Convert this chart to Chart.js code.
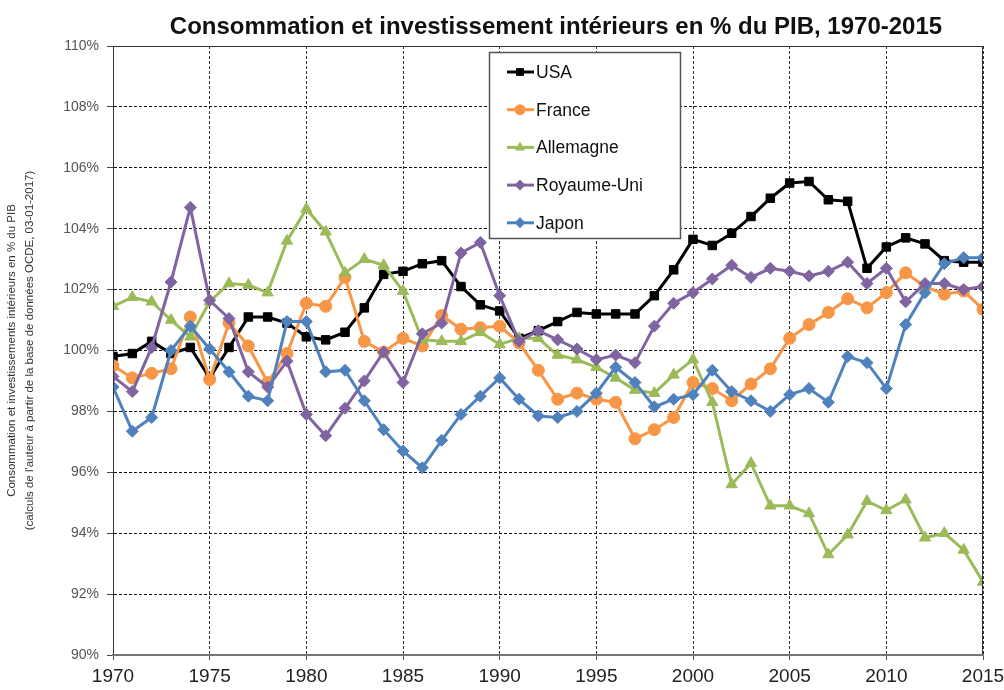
<!DOCTYPE html>
<html lang="fr">
<head>
<meta charset="UTF-8">
<title>Consommation et investissement intérieurs en % du PIB</title>
<style>
    body { margin: 0; background: #fff; }
    #wrap { width: 1004px; height: 690px; }
</style>
</head>
<body>
<div id="wrap"><canvas id="chart" width="1004" height="690"></canvas></div>
<script src="https://cdn.jsdelivr.net/npm/chart.js"></script>
<script>
// années 1970-2015
const years = [];
for (let y = 1970; y <= 2015; y++) years.push(y);

const usa = [99.8, 99.9, 100.3, 99.9, 100.1, 99.1, 100.1, 101.1, 101.1, 100.9,
    100.45, 100.35, 100.6, 101.4, 102.5, 102.6, 102.85, 102.95, 102.1, 101.5,
    101.3, 100.4, 100.65, 100.95, 101.25, 101.2, 101.2, 101.2, 101.8, 102.65,
    103.65, 103.45, 103.85, 104.4, 105.0, 105.5, 105.55, 104.95, 104.9, 102.7,
    103.4, 103.7, 103.5, 102.95, 102.9, 102.9];
const france = [99.5, 99.1, 99.25, 99.4, 101.1, 99.05, 100.9, 100.15, 98.95, 99.9,
    101.55, 101.45, 102.4, 100.3, 99.95, 100.4, 100.15, 101.15, 100.7, 100.75,
    100.8, 100.25, 99.35, 98.4, 98.6, 98.4, 98.3, 97.1, 97.4, 97.8,
    98.95, 98.75, 98.35, 98.9, 99.4, 100.4, 100.85, 101.25, 101.7, 101.4,
    101.9, 102.55, 102.1, 101.85, 101.95, 101.35];
const allemagne = [101.45, 101.75, 101.6, 101.0, 100.45, 101.6, 102.2, 102.15, 101.9, 103.6,
    104.65, 103.9, 102.55, 103.0, 102.8, 101.95, 100.35, 100.3, 100.3, 100.6,
    100.2, 100.4, 100.4, 99.85, 99.7, 99.45, 99.1, 98.7, 98.6, 99.2,
    99.7, 98.3, 95.6, 96.3, 94.9, 94.9, 94.65, 93.3, 93.95, 95.05,
    94.75, 95.1, 93.85, 94.0, 93.45, 92.4];
const royaumeUni = [99.15, 98.65, 100.1, 102.25, 104.7, 101.65, 101.05, 99.3, 98.8, 99.65,
    97.9, 97.2, 98.1, 99.0, 99.95, 98.95, 100.55, 100.9, 103.2, 103.55,
    101.8, 100.3, 100.65, 100.35, 100.05, 99.7, 99.85, 99.6, 100.8, 101.55,
    101.9, 102.35, 102.8, 102.4, 102.7, 102.6, 102.45, 102.6, 102.9, 102.2,
    102.7, 101.6, 102.2, 102.2, 102.0, 102.1];
const japon = [98.8, 97.35, 97.8, 100.0, 100.8, 100.05, 99.3, 98.5, 98.35, 100.95,
    100.95, 99.3, 99.35, 98.35, 97.4, 96.7, 96.15, 97.05, 97.9, 98.5,
    99.1, 98.4, 97.85, 97.8, 98.0, 98.6, 99.45, 98.95, 98.15, 98.4,
    98.55, 99.35, 98.65, 98.35, 98.0, 98.55, 98.75, 98.3, 99.8, 99.6,
    98.75, 100.85, 101.9, 102.85, 103.05, 103.05];

const seriesNames = ['USA', 'France', 'Allemagne', 'Royaume-Uni', 'Japon'];
const seriesValues = [usa, france, allemagne, royaumeUni, japon];
const colors = ['#000000', '#F79646', '#9BBB59', '#8064A2', '#4F81BD'];
const styles = ['rect', 'circle', 'triangle', 'rectRot', 'rectRot'];
const radii = [6, 6, 6.5, 6, 6];

const FONT = "'Liberation Sans', Arial, sans-serif";

const datasets = seriesNames.map((name, i) => ({
    label: name,
    data: years.map((yr, j) => ({ x: yr, y: seriesValues[i][j] })),
    borderColor: colors[i],
    backgroundColor: colors[i],
    borderWidth: 3,
    pointStyle: styles[i],
    pointRadius: radii[i],
    pointBorderWidth: 1,
    pointHoverRadius: radii[i],
    tension: 0,
    order: 5 - i // Japon dessiné par-dessus
}));

// petit marqueur pour la légende
function drawMarker(ctx, style, r, x, y, color) {
    ctx.save();
    ctx.fillStyle = color;
    ctx.beginPath();
    if (style === 'rect') {
        const s = r * Math.SQRT1_2;
        ctx.rect(x - s, y - s, 2 * s, 2 * s);
    } else if (style === 'circle') {
        ctx.arc(x, y, r, 0, Math.PI * 2);
    } else if (style === 'triangle') {
        ctx.moveTo(x, y - r);
        ctx.lineTo(x + r * 0.866, y + r * 0.5);
        ctx.lineTo(x - r * 0.866, y + r * 0.5);
        ctx.closePath();
    } else {
        ctx.moveTo(x, y - r);
        ctx.lineTo(x + r, y);
        ctx.lineTo(x, y + r);
        ctx.lineTo(x - r, y);
        ctx.closePath();
    }
    ctx.fill();
    ctx.restore();
}

const decor = {
    id: 'decor',
    afterDraw(chart) {
        const ctx = chart.ctx;
        const a = chart.chartArea;
        ctx.save();
        // cadre du graphique
        ctx.strokeStyle = '#333';
        ctx.lineWidth = 1;
        ctx.beginPath();
        ctx.moveTo(a.left, a.top + 0.5);
        ctx.lineTo(a.right, a.top + 0.5);
        ctx.moveTo(a.right - 0.5, a.top);
        ctx.lineTo(a.right - 0.5, a.bottom);
        ctx.moveTo(a.left + 0.5, a.top);
        ctx.lineTo(a.left + 0.5, a.bottom);
        ctx.stroke();
        ctx.strokeStyle = '#777';
        ctx.lineWidth = 2;
        ctx.beginPath();
        ctx.moveTo(a.left, a.bottom);
        ctx.lineTo(a.right, a.bottom);
        ctx.stroke();

        // titre
        ctx.fillStyle = '#111';
        ctx.font = 'bold 24px ' + FONT;
        ctx.textAlign = 'center';
        ctx.textBaseline = 'middle';
        ctx.fillText('Consommation et investissement intérieurs en % du PIB, 1970-2015', 556, 27);

        // légende
        const lx = 489.5, ly = 52.5, lw = 191, lh = 186;
        ctx.fillStyle = '#fff';
        ctx.fillRect(lx, ly, lw, lh);
        ctx.strokeStyle = '#555';
        ctx.lineWidth = 1.5;
        ctx.strokeRect(lx, ly, lw, lh);
        ctx.font = '17.5px ' + FONT;
        ctx.textAlign = 'left';
        seriesNames.forEach((name, i) => {
            const y = 72 + i * 37.7;
            ctx.strokeStyle = colors[i];
            ctx.lineWidth = 3;
            ctx.beginPath();
            ctx.moveTo(507, y);
            ctx.lineTo(534, y);
            ctx.stroke();
            drawMarker(ctx, styles[i], radii[i] - 0.5, 520, y, colors[i]);
            ctx.fillStyle = '#111';
            ctx.fillText(name, 536, y + 1);
        });
        ctx.restore();
    }
};

new Chart(document.getElementById('chart'), {
    type: 'line',
    data: { datasets: datasets },
    plugins: [decor],
    options: {
        responsive: false,
        animation: false,
        events: [],
        layout: { padding: { left: 0, right: 21, top: 46, bottom: 0 } },
        plugins: {
            legend: { display: false },
            title: { display: false },
            tooltip: { enabled: false }
        },
        scales: {
            x: {
                type: 'linear',
                min: 1970,
                max: 2015,
                afterFit(scale) {
                    scale.height = 35;
                    scale.paddingLeft = 0;
                    scale.paddingRight = 0;
                },
                ticks: {
                    stepSize: 5,
                    color: '#222',
                    padding: 5,
                    font: { family: FONT, size: 19 },
                    callback: v => String(v)
                },
                grid: {
                    color: '#333',
                    lineWidth: 1,
                    drawTicks: true,
                    tickLength: 5,
                    tickColor: '#555'
                },
                border: { display: true, color: '#777', width: 2, dash: [3, 2] }
            },
            y: {
                min: 90,
                max: 110,
                afterFit(scale) { scale.width = 113; },
                ticks: {
                    stepSize: 2,
                    color: '#555',
                    padding: 8,
                    font: { family: FONT, size: 14 },
                    callback: v => v + '%'
                },
                grid: {
                    color: '#111',
                    lineWidth: 1,
                    drawTicks: true,
                    tickLength: 6,
                    tickColor: '#444'
                },
                border: { display: true, color: '#333', width: 1, dash: [3, 2] },
                title: {
                    display: true,
                    text: ['Consommation et investissements intérieurs en % du PIB',
                        "(calculs de l'auteur à partir de la base de données OCDE, 03-01-2017)"],
                    color: '#333',
                    font: { family: FONT, size: 11.5, lineHeight: 1.55 },
                    padding: { top: 3, bottom: 0 }
                }
            }
        }
    }
});
</script>
</body>
</html>
